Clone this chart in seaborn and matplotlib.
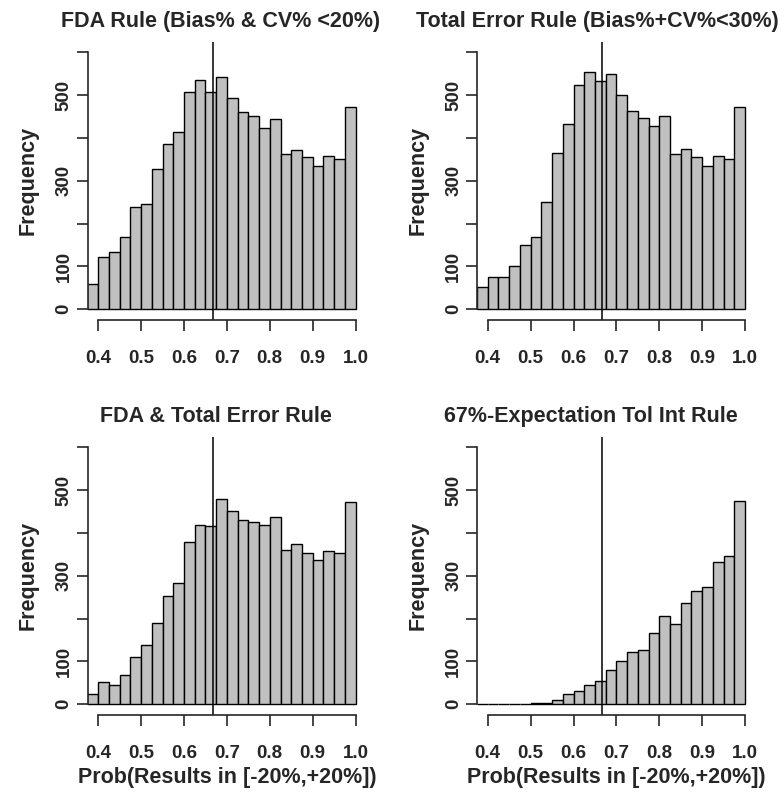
import numpy as np
import pandas as pd
import matplotlib
matplotlib.use("Agg")
import matplotlib.pyplot as plt
import seaborn as sns

# bin edges of the histograms (width 0.025)
bin_edges = [round(0.375 + 0.025 * k, 3) for k in range(26)]

titles = ["FDA Rule (Bias% & CV% <20%)",
          "Total Error Rule (Bias%+CV%<30%)",
          "FDA & Total Error Rule",
          "67%-Expectation Tol Int Rule"]

fda_counts = [58, 123, 133, 169, 238, 245, 327, 386, 413, 507, 535, 507, 543,
              494, 460, 450, 422, 443, 362, 371, 355, 334, 358, 351, 471]
te_counts = [51, 75, 75, 102, 150, 169, 250, 365, 432, 524, 553, 532, 549,
             500, 463, 447, 428, 450, 362, 375, 355, 334, 358, 351, 471]
both_counts = [25, 52, 46, 68, 111, 139, 189, 252, 284, 379, 419, 415, 479,
               452, 430, 426, 418, 438, 361, 374, 354, 337, 358, 354, 473]
tol_counts = [0, 0, 0, 0, 0, 2, 3, 9, 23, 30, 44, 54, 81,
              102, 123, 127, 166, 207, 187, 237, 264, 274, 333, 347, 474]

all_counts = [fda_counts, te_counts, both_counts, tol_counts]

y_ticks = [0, 100, 200, 300, 400, 500, 600]
y_ticklabels = ["0", "100", "", "300", "", "500", ""]
x_ticks = [0.4, 0.5, 0.6, 0.7, 0.8, 0.9, 1.0]
x_ticklabels = ["0.4", "0.5", "0.6", "0.7", "0.8", "0.9", "1.0"]
cutoff = 2 / 3
xlab = "Prob(Results in [-20%,+20%])"

sns.set_style("ticks")
plt.rcParams['font.family'] = ['Liberation Sans', 'DejaVu Sans']
plt.rcParams['font.weight'] = 'bold'

fig = plt.figure(figsize=(7.84, 7.92), dpi=100)
W, H = 784, 792
aw, ah = 278.8, 277.8
lefts = [87.5, 477, 87.5, 477]
bottoms = [319.6, 319.6, 714.6, 714.6]
title_x = [0.478, 0.430, 0.461, 0.409]

edges = np.array(bin_edges)
mids = (edges[:-1] + edges[1:]) / 2

for i in range(4):
    ax = fig.add_axes([lefts[i] / W, (H - bottoms[i]) / H, aw / W, ah / H])
    df = pd.DataFrame({"mid": mids, "count": all_counts[i]})
    sns.histplot(data=df, x="mid", weights="count", bins=bin_edges, ax=ax,
                 color="#C0C0C0", edgecolor="black", linewidth=1.0, alpha=1)
    ax.axvline(cutoff, color="black", lw=1.1)
    ax.set_xlim(0.375, 1.025)
    ax.set_ylim(-24, 624)
    sns.despine(ax=ax)
    ax.spines['left'].set_bounds(0, 600)
    ax.spines['bottom'].set_bounds(0.4, 1.0)
    for s in ['left', 'bottom']:
        ax.spines[s].set_linewidth(1.2)
    ax.set_yticks(y_ticks)
    ax.set_yticklabels(y_ticklabels, rotation=90, va='center', fontsize=13.5,
                       fontweight='bold')
    ax.set_xticks(x_ticks)
    ax.set_xticklabels(x_ticklabels, fontsize=13.5, fontweight='bold')
    ax.tick_params(axis='both', length=7.7, width=1.2, direction='out')
    ax.tick_params(axis='x', pad=14)
    ax.tick_params(axis='y', pad=3)
    ax.set_ylabel("Frequency", fontsize=15.5, fontweight='bold', labelpad=12)
    if i >= 2:
        ax.set_xlabel(xlab, fontsize=15.5, fontweight='bold', labelpad=4)
    else:
        ax.set_xlabel("")
    ax.set_title(titles[i], fontsize=15.5, fontweight='bold', x=title_x[i], pad=11)

fig.savefig("out.png", dpi=100)
